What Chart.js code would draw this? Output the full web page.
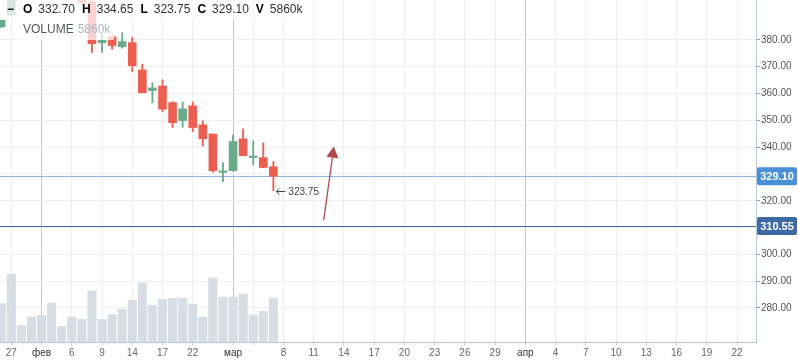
<!DOCTYPE html>
<html>
<head>
<meta charset="utf-8">
<script src="https://cdn.jsdelivr.net/npm/chart.js@4.4.1/dist/chart.umd.min.js"></script>
<style>
  html, body { margin: 0; padding: 0; background: #fff; }
  #wrap { width: 798px; height: 363px; position: relative; }
</style>
</head>
<body>
<div id="wrap"><canvas id="graph"></canvas></div>
<script>
// one entry per trading day, oldest first (first day is cut by the left edge)
const openPrices  = [384.9, 389.3, 398.6, 401.8, 405.0, 407.6, 411.0, 408.0, 402.5, 394.2,
                     379.0, 381.2, 377.5, 379.0, 368.8, 361.1, 362.8, 356.6, 349.9, 355.4,
                     348.3, 344.9, 330.6, 331.2, 343.1, 336.1, 336.1, 332.70]
const highPrices  = [387.8, 399.5, 403.0, 406.5, 409.0, 413.0, 412.5, 409.6, 403.5, 395.6,
                     382.2, 382.0, 382.7, 381.0, 371.0, 364.1, 365.1, 357.0, 356.9, 356.9,
                     349.8, 344.9, 334.2, 344.6, 346.8, 342.3, 341.6, 334.65]
const lowPrices   = [384.6, 388.8, 397.5, 400.5, 403.8, 405.5, 406.6, 401.5, 393.2, 375.3,
                     375.3, 376.5, 376.9, 368.2, 360.3, 356.6, 353.2, 347.3, 347.4, 345.8,
                     340.4, 330.6, 327.1, 331.0, 336.8, 333.4, 332.4, 323.75]
const closePrices = [387.5, 398.6, 401.8, 405.2, 407.6, 411.2, 408.0, 402.8, 394.0, 378.6,
                     380.0, 377.9, 379.4, 370.4, 360.3, 362.1, 354.2, 349.1, 354.3, 347.3,
                     343.1, 331.2, 331.1, 342.1, 336.8, 336.7, 332.4, 329.10]
// volume in thousands
const volumes     = [5110, 9020, 2220, 3330, 3560, 5190, 2090, 3330, 3020, 6790,
                     3020, 3650, 4360, 5550, 7860, 4890, 5690, 5820, 5820, 5060,
                     3330, 8520, 5990, 5990, 6390, 3600, 4090, 5860]

// x axis labels per slot ('' = no tick, ' ' = grid line without text)
const xLabels = [
  '', '27', '', '', 'фев', '', '', '6', '', '', '9', '', '', '14', '', '', '17', '', '', '22',
  '', '', '', 'мар', '', ' ', '', '', '8', '', '', '11', '', '', '14', '', '', '17', '', '',
  '20', '', '', '23', '', '', '26', '', '', '29', '', '', 'апр', '', '', '4', '', '', '7', '',
  '', '10', '', '', '13', '', '', '16', '', '', '19', '', '', '22', ''
]
const monthLabels = ['фев', 'мар', 'апр']
const priceTicks = [280, 290, 300, 310, 320, 330, 340, 350, 360, 370, 380]

const lastPrice = 329.10
const levelPrice = 310.55
const arrowFrom = { slot: 32, price: 312.8 }
const arrowTo = { slot: 33, price: 340.2 }

const UP = '#6aab8b'
const DOWN = '#ec5f50'
const VOL = '#d6dde4'
const AXIS = '#b7c8d8'
const FONT = '"Liberation Sans", Arial, sans-serif'

let candleColor = function(i) {
  return closePrices[i] >= openPrices[i] ? UP : DOWN
}

let bodies = openPrices.map((o, i) => ({ x: i, y: [o, closePrices[i]] }))
let wicks = lowPrices.map((l, i) => ({ x: i, y: [l, highPrices[i]] }))
let vols = volumes.map((v, i) => ({ x: i, y: v }))
let colors = openPrices.map((o, i) => candleColor(i))

let noPadding = function(scale) {
  scale.paddingTop = 0
  scale.paddingBottom = 0
  scale.paddingLeft = 0
  scale.paddingRight = 0
}

const overlay = {
  id: 'overlay',
  beforeDatasetsDraw(chart) {
    let c = chart.ctx, a = chart.chartArea, y = chart.scales.y
    c.save()
    c.lineWidth = 1
    c.strokeStyle = '#8fb7e2'
    let yl = Math.round(y.getPixelForValue(lastPrice)) + 0.5
    c.beginPath(); c.moveTo(a.left, yl); c.lineTo(a.right, yl); c.stroke()
    c.strokeStyle = '#3b6ea8'
    let yv = Math.round(y.getPixelForValue(levelPrice)) + 0.5
    c.beginPath(); c.moveTo(a.left, yv); c.lineTo(a.right, yv); c.stroke()
    c.restore()
  },
  afterDatasetsDraw(chart) {
    let c = chart.ctx, x = chart.scales.x, y = chart.scales.y
    c.save()
    // low marker of the last day
    let n = lowPrices.length - 1
    let lx = x.getPixelForValue(n) + 3, ly = Math.round(y.getPixelForValue(lowPrices[n])) + 0.5
    c.strokeStyle = '#444'
    c.lineWidth = 1
    c.beginPath()
    c.moveTo(lx, ly); c.lineTo(lx + 9, ly)
    c.moveTo(lx + 3, ly - 3); c.lineTo(lx, ly); c.lineTo(lx + 3, ly + 3)
    c.stroke()
    c.font = '10px ' + FONT
    c.fillStyle = '#444'
    c.textBaseline = 'middle'
    c.fillText(lowPrices[n].toFixed(2), lx + 12, ly + 1)

    // hand drawn arrow
    let x0 = x.getPixelForValue(arrowFrom.slot), y0 = y.getPixelForValue(arrowFrom.price)
    let x1 = x.getPixelForValue(arrowTo.slot), y1 = y.getPixelForValue(arrowTo.price)
    let len = Math.hypot(x1 - x0, y1 - y0)
    let dx = (x1 - x0) / len, dy = (y1 - y0) / len
    let bx = x1 - dx * 11, by = y1 - dy * 11
    c.strokeStyle = '#b5474b'
    c.fillStyle = '#b5474b'
    c.lineWidth = 1.3
    c.beginPath(); c.moveTo(x0, y0); c.lineTo(bx, by); c.stroke()
    c.beginPath()
    c.moveTo(x1, y1)
    c.lineTo(bx - dy * 6, by + dx * 6)
    c.lineTo(bx + dy * 6, by - dx * 6)
    c.closePath()
    c.fill()
    c.restore()
  },
  afterDraw(chart) {
    let c = chart.ctx, y = chart.scales.y, a = chart.chartArea
    c.save()
    // price badges on the axis
    let badge = function(v, bg) {
      let py = y.getPixelForValue(v)
      c.fillStyle = bg
      c.beginPath()
      c.roundRect(a.right + 1, py - 9, 40, 18, 2)
      c.fill()
      c.fillStyle = '#fff'
      c.font = 'bold 11px ' + FONT
      c.textAlign = 'center'
      c.textBaseline = 'middle'
      c.fillText(v.toFixed(2), a.right + 21, py + 0.5)
    }
    badge(lastPrice, '#4a90d9')
    badge(levelPrice, '#3d6aa3')

    // legend boxes
    c.fillStyle = 'rgba(255,255,255,0.72)'
    c.fillRect(0, 0, 302, 20)
    c.fillRect(19, 20, 95, 20)
    c.textAlign = 'left'
    c.textBaseline = 'middle'
    c.font = 'bold 12px ' + FONT
    c.fillStyle = '#000'
    c.fillText('−', 7, 10)
    let n = closePrices.length - 1
    let items = [
      ['O', openPrices[n].toFixed(2)],
      ['H', highPrices[n].toFixed(2)],
      ['L', lowPrices[n].toFixed(2)],
      ['C', closePrices[n].toFixed(2)],
      ['V', volumes[n] + 'k'],
    ]
    let px = 23
    items.forEach(function(it) {
      c.font = 'bold 12px ' + FONT
      c.fillStyle = '#000'
      c.fillText(it[0], px, 10)
      px += c.measureText(it[0]).width + 6
      c.font = '12px ' + FONT
      c.fillStyle = '#333'
      c.fillText(it[1], px, 10)
      px += c.measureText(it[1]).width + 7
    })
    c.font = '12px ' + FONT
    c.fillStyle = '#555'
    c.fillText('VOLUME', 23, 30)
    c.fillStyle = '#aab9c9'
    c.fillText(volumes[n] + 'k', 23 + c.measureText('VOLUME').width + 4, 30)
    c.restore()
  }
}

const ctx = document.getElementById('graph').getContext('2d')

let graph = new Chart(ctx, {
  type: 'bar',
  data: {
    datasets: [
      {
        label: 'body',
        data: bodies,
        backgroundColor: colors,
        barThickness: 8,
        minBarLength: 1.5,
        grouped: false,
        order: 0,
        yAxisID: 'y',
      },
      {
        label: 'wick',
        data: wicks,
        backgroundColor: colors,
        barThickness: 1.2,
        grouped: false,
        order: 1,
        yAxisID: 'y',
      },
      {
        label: 'volume',
        data: vols,
        backgroundColor: VOL,
        barThickness: 8.4,
        grouped: false,
        order: 2,
        yAxisID: 'yv',
      },
    ],
  },
  options: {
    responsive: true,
    maintainAspectRatio: false,
    animation: false,
    layout: { padding: 0 },
    plugins: {
      legend: { display: false },
      tooltip: { enabled: false },
    },
    scales: {
      x: {
        type: 'linear',
        offset: false,
        min: -0.12,
        max: 74.88,
        afterBuildTicks: function(scale) {
          let t = []
          xLabels.forEach(function(l, i) { if (l !== '') t.push({ value: i }) })
          scale.ticks = t
        },
        afterFit: function(scale) {
          scale.height = 21
          noPadding(scale)
        },
        ticks: {
          autoSkip: false,
          maxRotation: 0,
          padding: 2,
          font: { family: FONT, size: 10 },
          color: function(c) {
            return monthLabels.includes(xLabels[c.tick.value]) ? '#333' : '#666'
          },
          callback: function(v) { return xLabels[v] },
        },
        grid: {
          offset: false,
          color: function(c) {
            if (!c.tick) return '#eeeeee'
            return monthLabels.includes(xLabels[c.tick.value]) ? '#c4c4c4' : '#eeeeee'
          },
          tickColor: AXIS,
          tickLength: 3,
        },
        border: { color: AXIS },
      },
      y: {
        position: 'right',
        min: 267.3,
        max: 394.9,
        afterBuildTicks: function(scale) {
          scale.ticks = priceTicks.map(v => ({ value: v }))
        },
        afterFit: function(scale) {
          scale.width = 42
          noPadding(scale)
        },
        ticks: {
          padding: 1,
          font: { family: FONT, size: 10 },
          color: '#555',
          callback: function(v) { return v.toFixed(2) },
        },
        grid: {
          color: '#efefef',
          tickColor: '#999',
          tickLength: 4,
        },
        border: { color: AXIS },
      },
      yv: {
        display: false,
        min: 0,
        max: 45550,
      },
    },
  },
  plugins: [overlay],
})
</script>
</body>
</html>
